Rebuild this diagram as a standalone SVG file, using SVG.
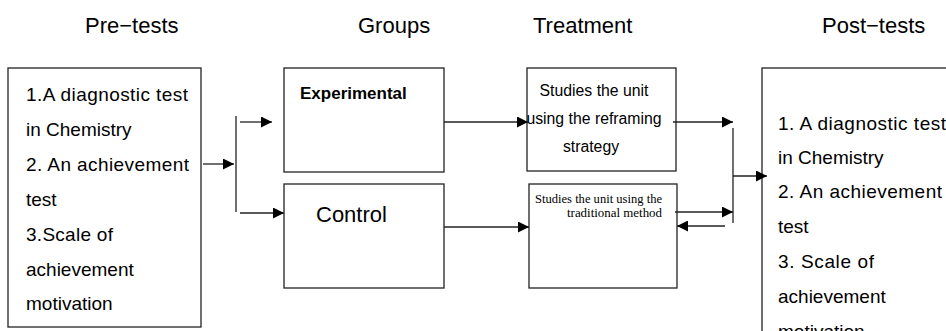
<svg xmlns="http://www.w3.org/2000/svg" width="946" height="331" viewBox="0 0 946 331">
<style>
.box{fill:#fff;stroke:#222;stroke-width:1.3}
.ln{stroke:#222;stroke-width:1.3;fill:none}
.arr{stroke:#222;stroke-width:1.3;fill:none;marker-end:url(#ah)}
.hd{font-family:"Liberation Sans",Arial,sans-serif;font-size:22px;fill:#000}
.tx{font-family:"Liberation Sans",Arial,sans-serif;font-size:19px;fill:#000}
.tr{font-family:"Liberation Sans",Arial,sans-serif;font-size:15.8px;fill:#000;text-anchor:middle}
.sf{font-family:"Liberation Serif","Times New Roman",serif;font-size:11.5px;fill:#000;text-anchor:end}
</style>
<defs>
<marker id="ah" markerUnits="userSpaceOnUse" markerWidth="11" markerHeight="11" refX="11" refY="5.5" orient="auto">
<path d="M0,0 L11,5.5 L0,11 z" fill="#000"/>
</marker>
</defs>
<rect width="946" height="331" fill="#fff"/>
<g id="headers">
<text class="hd" x="85" y="33">Pre−tests</text>
<text class="hd" x="358" y="33">Groups</text>
<text class="hd" x="533" y="33">Treatment</text>
<text class="hd" x="822" y="33">Post−tests</text>
</g>
<g id="pretests">
<rect class="box" x="8" y="68" width="193" height="259"/>
<text class="tx" x="26" y="101" textLength="162" lengthAdjust="spacing">1.A diagnostic test</text>
<text class="tx" x="26" y="136">in Chemistry</text>
<text class="tx" x="26" y="171" textLength="163" lengthAdjust="spacing">2. An achievement</text>
<text class="tx" x="26" y="206">test</text>
<text class="tx" x="26" y="241" textLength="87" lengthAdjust="spacing">3.Scale of</text>
<text class="tx" x="26" y="276">achievement</text>
<text class="tx" x="26" y="310">motivation</text>
</g>
<g id="experimental">
<rect class="box" x="284" y="68" width="160" height="104"/>
<text x="300" y="99" style="font-family:'Liberation Sans',Arial,sans-serif;font-size:17px;font-weight:bold">Experimental</text>
</g>
<g id="control">
<rect class="box" x="284" y="184" width="160" height="104"/>
<text x="316" y="222" style="font-family:'Liberation Sans',Arial,sans-serif;font-size:22px">Control</text>
</g>
<g id="treatment-reframing">
<rect class="box" x="527" y="68" width="149" height="103"/>
<text class="tr" x="594" y="96">Studies the unit</text>
<text class="tr" x="594" y="124">using the reframing</text>
<text class="tr" x="591" y="152">strategy</text>
</g>
<g id="treatment-traditional">
<rect class="box" x="529" y="184" width="148" height="104"/>
<text class="sf" x="662" y="203" textLength="127" lengthAdjust="spacingAndGlyphs">Studies the unit using the</text>
<text class="sf" x="662" y="217" textLength="95" lengthAdjust="spacingAndGlyphs">traditional method</text>
</g>
<g id="posttests">
<rect class="box" x="762" y="68" width="200" height="280"/>
<text class="tx" x="778" y="130" textLength="168" lengthAdjust="spacing">1. A diagnostic test</text>
<text class="tx" x="778" y="164">in Chemistry</text>
<text class="tx" x="778" y="198" textLength="164" lengthAdjust="spacing">2. An achievement</text>
<text class="tx" x="778" y="233">test</text>
<text class="tx" x="778" y="268" textLength="96" lengthAdjust="spacing">3. Scale of</text>
<text class="tx" x="778" y="303">achievement</text>
<text class="tx" x="778" y="338">motivation</text>
</g>
<g id="connectors">
<line class="arr" x1="203" y1="164" x2="234" y2="164"/>
<line class="ln" x1="236" y1="116" x2="236" y2="212"/>
<line class="arr" x1="240" y1="122" x2="272" y2="122"/>
<line class="arr" x1="240" y1="213" x2="284" y2="213"/>
<line class="arr" x1="444" y1="122" x2="528" y2="122"/>
<line class="arr" x1="444" y1="227" x2="529" y2="227"/>
<line class="arr" x1="673" y1="122" x2="733" y2="122"/>
<line class="arr" x1="675" y1="212" x2="733" y2="212"/>
<line class="arr" x1="725" y1="226" x2="677" y2="226"/>
<line class="ln" x1="733" y1="128" x2="733" y2="223"/>
<line class="arr" x1="733" y1="176" x2="767" y2="176"/>
</g>
</svg>
